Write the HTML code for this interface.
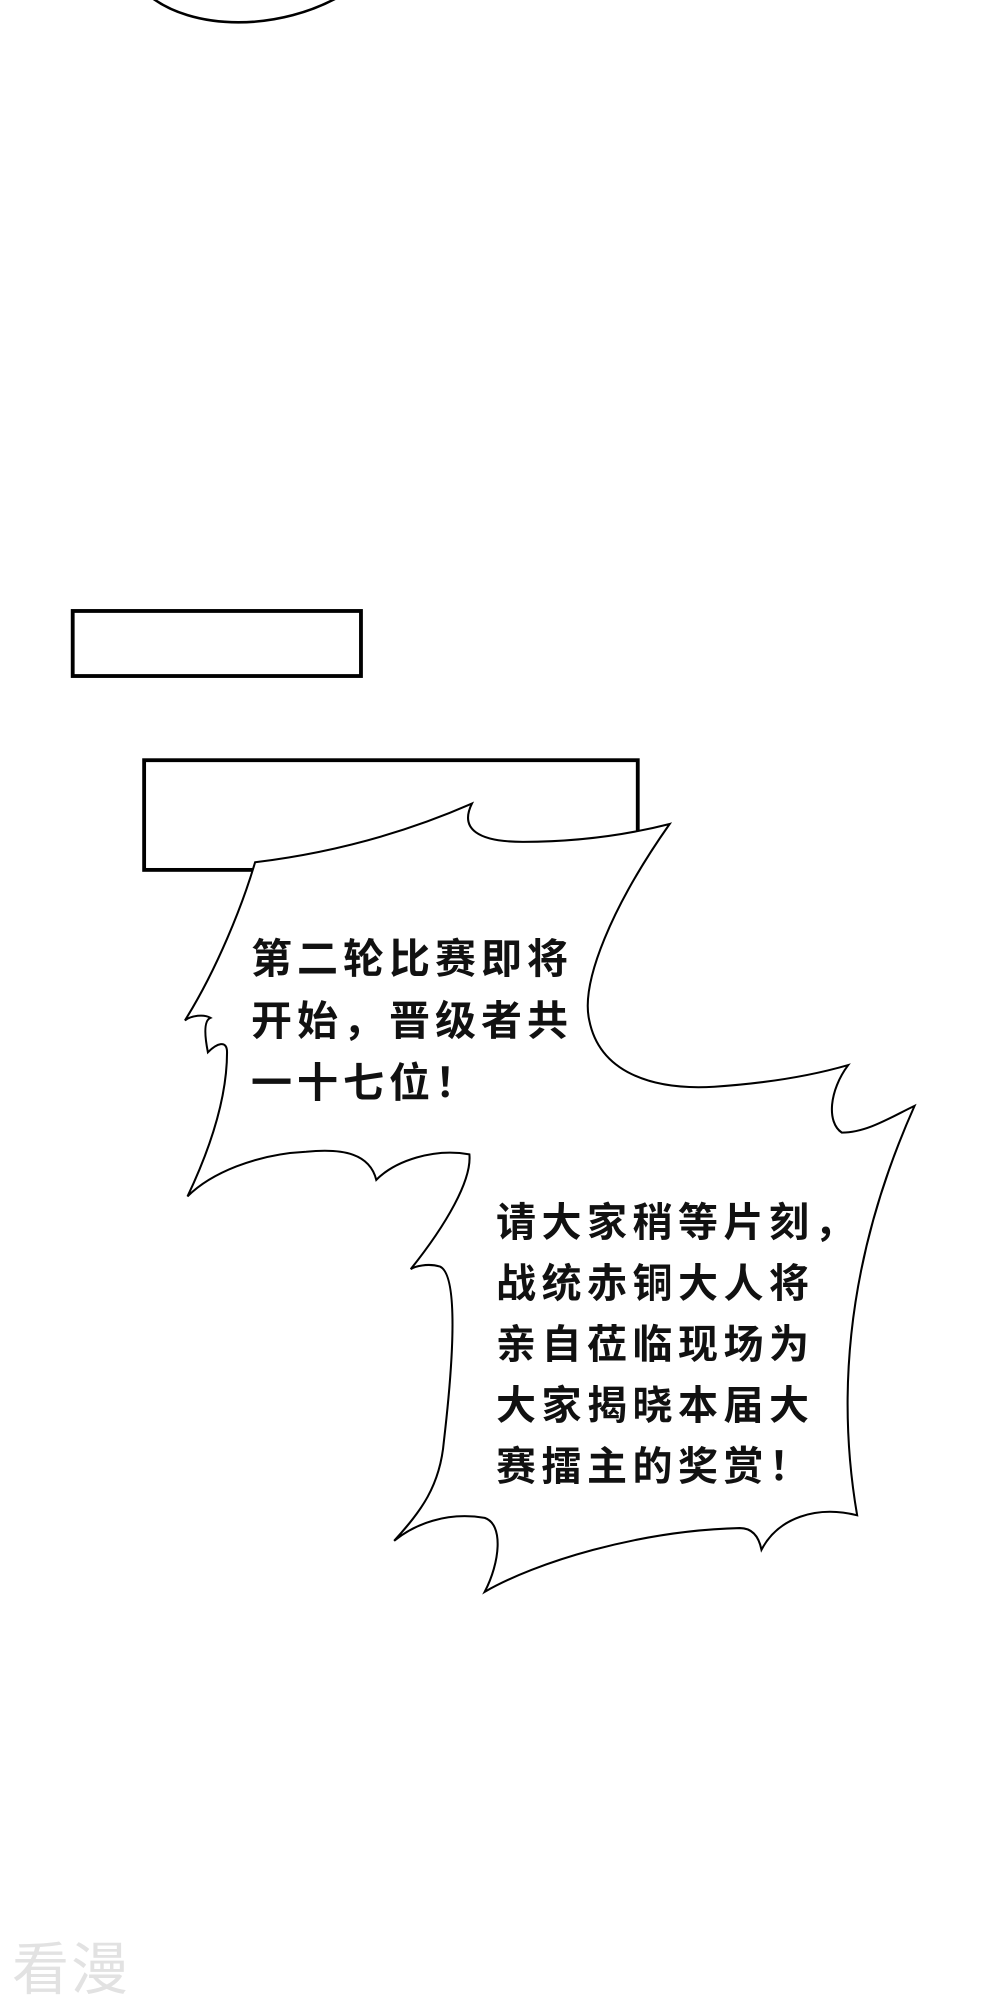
<!DOCTYPE html>
<html><head><meta charset="utf-8"><style>
html,body{margin:0;padding:0;background:#fff;}
body{width:1000px;height:2000px;position:relative;overflow:hidden;}
svg{position:absolute;left:0;top:0;}
.t{position:absolute;font-family:"Liberation Sans","Noto Sans CJK SC",sans-serif;font-weight:bold;color:#111;white-space:nowrap;}
</style></head><body>
<svg width="1000" height="2000" viewBox="0 0 784 1568">
<path d="M115,-5 C150,25 220,25 270,-5" fill="none" stroke="#000" stroke-width="2"/>
<rect x="57" y="479" width="226" height="51" fill="#fff" stroke="#000" stroke-width="3"/>
<rect x="113" y="596" width="387" height="86" fill="#fff" stroke="#000" stroke-width="3"/>
<path d="M200,676 Q290,665 370,630 C360,650 375,660 410,660 Q470,660 525,646 C480,710 455,770 462,800 C470,840 510,855 560,852 Q620,848 665,835 C650,855 648,880 660,888 C680,888 700,875 717,867 C680,950 650,1060 672,1188 C640,1180 610,1190 597,1215 C595,1205 590,1198 580,1198 C500,1200 420,1225 380,1248 C392,1225 395,1195 380,1190 C350,1185 325,1195 309,1208 C330,1185 345,1165 348,1130 C355,1070 360,1000 345,993 C335,990 325,993 322,995 C350,960 370,925 368,905 C340,900 310,910 295,925 C290,905 270,900 240,903 C200,905 165,920 147,938 C165,900 178,860 178,825 C178,815 170,818 163,825 C160,810 160,800 165,798 C160,795 150,796 145,800 C170,760 190,710 200,676 Z" fill="#fff" stroke="#000" stroke-width="1.6" stroke-linejoin="miter"/>
</svg>
<div class="t" style="left:251px;top:928px;font-size:41px;line-height:62px;letter-spacing:5px;">第二轮比赛即将<br>开始，晋级者共<br>一十七位！</div>
<div class="t" style="left:496px;top:1193px;font-size:40px;line-height:61px;letter-spacing:5.5px;">请大家稍等片刻，<br>战统赤铜大人将<br>亲自莅临现场为<br>大家揭晓本届大<br>赛擂主的奖赏！</div>
<div class="t" style="left:12px;top:1924px;font-size:57px;font-weight:normal;color:#e2e2e2;letter-spacing:2px;">看漫</div>
</body></html>
